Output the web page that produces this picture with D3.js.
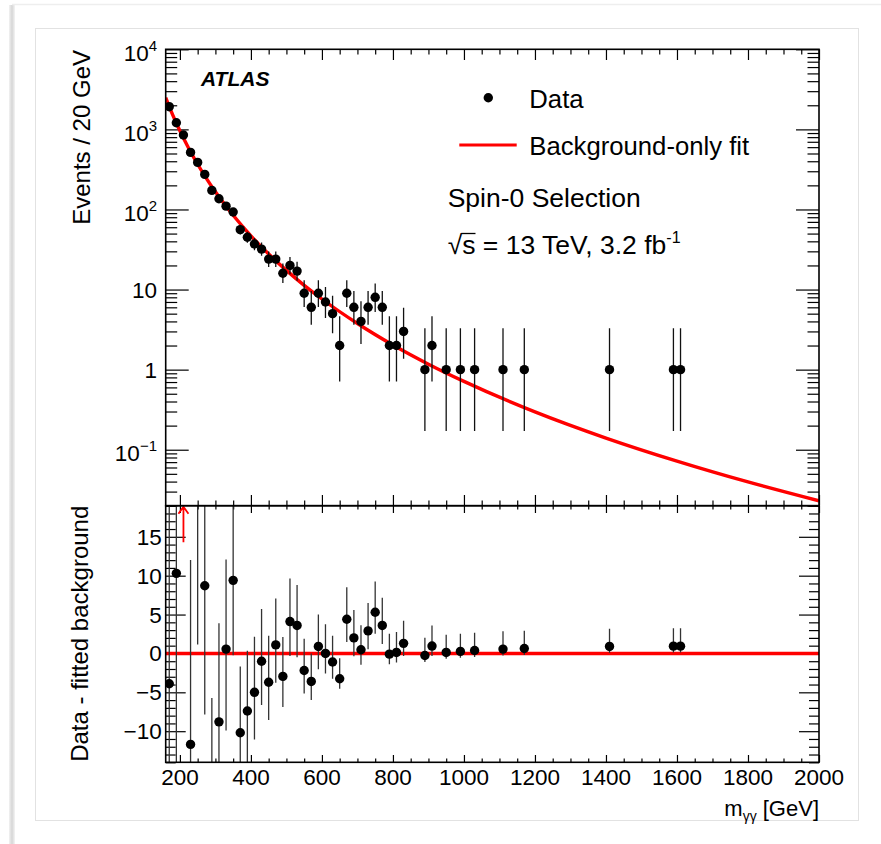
<!DOCTYPE html>
<html>
<head>
<meta charset="utf-8">
<script src="https://cdn.jsdelivr.net/npm/d3@7"></script>
<style>
  body { margin: 0; background: #fff; }
  text { font-family: "Liberation Sans", Arial, Helvetica, sans-serif; fill: #000; }
</style>
</head>
<body>
<svg id="chart" width="881" height="844"></svg>
<script>
// bin centres [GeV] of the non-empty 20 GeV bins
const mass = [170, 190, 210, 230, 250, 270, 290, 310, 330, 350, 370, 390, 410, 430, 450, 470, 490, 510,
  530, 550, 570, 590, 610, 630, 650, 670, 690, 710, 730, 750, 770, 790, 810, 830, 890, 910, 950, 990,
  1030, 1110, 1170, 1410, 1590, 1610]

// events per bin
const events = [1920, 1210, 850, 516, 387, 274, 173, 136, 110, 93, 56, 45, 37, 32, 24, 24, 16, 20,
  17, 9, 6, 9, 7, 5, 2, 9, 6, 4, 6, 8, 6, 2, 2, 3, 1, 2, 1, 1, 1, 1, 1, 1, 1, 1]

// data - fitted background, per bin
const residual = [-3.9, 10.3, 55, -11.7, 20.8, 8.7, -19.9, -8.8, 0.56, 9.4, -10.2, -7.4, -5.0, -1.0,
  -3.7, 1.1, -2.95, 4.1, 3.6, -2.2, -3.6, 0.9, 0.0, -1.1, -3.25, 4.4, 2.0, 0.47, 2.9, 5.3, 3.6, -0.09,
  0.13, 1.3, -0.26, 0.95, 0.13, 0.26, 0.38, 0.56, 0.64, 0.9, 0.94, 0.94]

// background-only fit, sampled along the curve
const fitMass = [160, 180, 200, 225, 250, 275, 300, 350, 400, 450, 500, 550, 600, 700, 800, 900,
  1000, 1200, 1400, 1600, 1800, 2000]
const fitValue = [2490, 1506, 959, 578, 367, 243, 166, 84.6, 46.9, 27.8, 17.35, 11.3, 7.62, 3.77,
  2.03, 1.17, 0.713, 0.297, 0.140, 0.0721, 0.0396, 0.0230]

const xTicks = [200, 400, 600, 800, 1000, 1200, 1400, 1600, 1800, 2000]
const yTopTicks = [0.1, 1, 10, 100, 1000, 10000]
const yTopLabels = [['10', '\u22121'], ['1', null], ['10', null], ['10', '2'], ['10', '3'], ['10', '4']]
const yBotTicks = [-10, -5, 0, 5, 10, 15]

const svg = d3.select('#chart')

// page decoration
svg.append('rect').attr('x', 0).attr('y', 0).attr('width', 881).attr('height', 844).attr('fill', '#fff')
const defs = svg.append('defs')
const grad = defs.append('linearGradient').attr('id', 'shade')
grad.append('stop').attr('offset', '0').attr('stop-color', '#f2f2f2')
grad.append('stop').attr('offset', '0.5').attr('stop-color', '#d6d6d6')
grad.append('stop').attr('offset', '1').attr('stop-color', '#f4f4f4')
svg.append('rect').attr('x', 9).attr('y', 5).attr('width', 6).attr('height', 839).attr('fill', 'url(#shade)')
svg.append('line').attr('x1', 12).attr('x2', 881).attr('y1', 4.5).attr('y2', 4.5)
  .attr('stroke', '#eeeeee').attr('stroke-width', 1.5)
svg.append('rect').attr('x', 35.5).attr('y', 28.5).attr('width', 823).attr('height', 792)
  .attr('fill', 'none').attr('stroke', '#e2e2e2').attr('stroke-width', 1)

const pLeft = 165.7, pRight = 819, pTop = 49.3, pMid = 505.7, pBottom = 762.3

const x = d3.scaleLinear().domain([160, 2000]).range([pLeft, pRight])
const yTop = d3.scaleLog().domain([0.02, 1e4]).range([pMid, pTop])
const yBot = d3.scaleLinear().domain([-14, 19]).range([pBottom, pMid])

// Garwood 68% Poisson interval (Wilson-Hilferty form)
function chi2(k, z) {
  const t = 2 / (9 * k)
  return k * Math.pow(1 - t + z * Math.sqrt(t), 3)
}
const poisLo = n => n === 0 ? 0 : chi2(2 * n, -1) / 2
const poisHi = n => chi2(2 * n + 2, 1) / 2

const data = mass.map((m, i) => ({
  m: m, n: events[i], r: residual[i],
  lo: poisLo(events[i]), hi: poisHi(events[i])
}))

defs.append('clipPath').attr('id', 'clipTop').append('rect')
  .attr('x', pLeft).attr('y', pTop).attr('width', pRight - pLeft).attr('height', pMid - pTop)
defs.append('clipPath').attr('id', 'clipBot').append('rect')
  .attr('x', pLeft).attr('y', pMid).attr('width', pRight - pLeft).attr('height', pBottom - pMid)

const minorX = d3.range(200, 2001, 50).filter(v => v % 200 !== 0)
const minorLog = []
for (let k = -2; k <= 3; k++) {
  for (let j = 2; j <= 9; j++) {
    const v = j * Math.pow(10, k)
    if (v >= 0.02 && v <= 1e4) minorLog.push(v)
  }
}
const minorBot = d3.range(-14, 20).filter(v => v % 5 !== 0)

function ticks(axis, scale, values, size, tx, ty) {
  svg.append('g')
    .attr('class', 'ticks')
    .attr('transform', `translate(${ tx }, ${ ty })`)
    .call(axis(scale).tickValues(values).tickSize(size).tickFormat(''))
}

// ---- top panel ticks
ticks(d3.axisTop, x, xTicks, -10.7, 0, pTop)
ticks(d3.axisTop, x, minorX, -5.3, 0, pTop)
ticks(d3.axisBottom, x, xTicks, -10.7, 0, pMid)
ticks(d3.axisBottom, x, minorX, -5.3, 0, pMid)
ticks(d3.axisLeft, yTop, yTopTicks, -23, pLeft, 0)
ticks(d3.axisLeft, yTop, minorLog, -11.5, pLeft, 0)
ticks(d3.axisRight, yTop, yTopTicks, -23, pRight, 0)
ticks(d3.axisRight, yTop, minorLog, -11.5, pRight, 0)

// ---- bottom panel ticks
ticks(d3.axisTop, x, xTicks, -7.3, 0, pMid)
ticks(d3.axisTop, x, minorX, -3.7, 0, pMid)
ticks(d3.axisBottom, x, xTicks, -7.3, 0, pBottom)
ticks(d3.axisBottom, x, minorX, -3.7, 0, pBottom)
ticks(d3.axisLeft, yBot, yBotTicks, -20, pLeft, 0)
ticks(d3.axisLeft, yBot, minorBot, -10, pLeft, 0)
ticks(d3.axisRight, yBot, yBotTicks, -20, pRight, 0)
ticks(d3.axisRight, yBot, minorBot, -10, pRight, 0)

svg.selectAll('.ticks path').remove()
svg.selectAll('.ticks line').attr('stroke', '#000').attr('stroke-width', 1.2)

// ---- fit curve (top)
const gTop = svg.append('g').attr('clip-path', 'url(#clipTop)')
const fitLine = d3.line().x(d => x(d[0])).y(d => yTop(d[1])).curve(d3.curveMonotoneX)
gTop.append('path')
  .datum(fitMass.map((m, i) => [m, fitValue[i]]))
  .attr('d', fitLine)
  .attr('fill', 'none').attr('stroke', '#ff0000').attr('stroke-width', 3.4)

gTop.selectAll('.err').data(data).enter().append('line')
  .attr('x1', d => x(d.m)).attr('x2', d => x(d.m))
  .attr('y1', d => yTop(Math.max(d.lo, 0.001))).attr('y2', d => yTop(d.hi))
  .attr('stroke', '#111').attr('stroke-width', 1.3)
gTop.selectAll('.pt').data(data).enter().append('circle')
  .attr('cx', d => x(d.m)).attr('cy', d => yTop(d.n)).attr('r', 4.7).attr('fill', '#000')

// ---- residuals (bottom)
const gBot = svg.append('g').attr('clip-path', 'url(#clipBot)')
gBot.append('line')
  .attr('x1', pLeft).attr('x2', pRight).attr('y1', yBot(0)).attr('y2', yBot(0))
  .attr('stroke', '#ff0000').attr('stroke-width', 3.5)

const shown = data.filter(d => d.r - (d.n - d.lo) < 19)
gBot.selectAll('.err').data(shown).enter().append('line')
  .attr('x1', d => x(d.m)).attr('x2', d => x(d.m))
  .attr('y1', d => yBot(d.r - (d.n - d.lo))).attr('y2', d => yBot(d.r + (d.hi - d.n)))
  .attr('stroke', '#333').attr('stroke-width', 1.3)
gBot.selectAll('.pt').data(shown).enter().append('circle')
  .attr('cx', d => x(d.m)).attr('cy', d => yBot(d.r)).attr('r', 4.7).attr('fill', '#000')

// off-scale point: red arrow
const over = data.filter(d => d.r - (d.n - d.lo) >= 19)
over.forEach(d => {
  const ax = x(d.m)
  svg.append('path')
    .attr('d', `M${ ax },${ yBot(14.3) }V${ pMid + 1 }M${ ax - 5 },${ pMid + 8 }L${ ax },${ pMid + 1 }L${ ax + 5 },${ pMid + 8 }`)
    .attr('fill', 'none').attr('stroke', '#ff0000').attr('stroke-width', 1.8)
})

// frames
svg.append('rect').attr('x', pLeft).attr('y', pTop).attr('width', pRight - pLeft).attr('height', pMid - pTop)
  .attr('fill', 'none').attr('stroke', '#000').attr('stroke-width', 1.6)
svg.append('rect').attr('x', pLeft).attr('y', pMid).attr('width', pRight - pLeft).attr('height', pBottom - pMid)
  .attr('fill', 'none').attr('stroke', '#000').attr('stroke-width', 1.6)

// ---- tick labels
svg.append('g').selectAll('text').data(xTicks).enter().append('text')
  .attr('x', d => x(d)).attr('y', 785).attr('text-anchor', 'middle')
  .style('font-size', '22.5px').text(d => d)

const yl = svg.append('g').selectAll('text').data(yTopTicks).enter().append('text')
  .attr('x', 157).attr('y', (d, i) => yTop(d) + (yTopLabels[i][1] ? 11.5 : 8))
  .attr('text-anchor', 'end').style('font-size', '22.5px')
yl.append('tspan').text((d, i) => yTopLabels[i][0])
yl.filter((d, i) => yTopLabels[i][1]).append('tspan')
  .attr('dy', -10).style('font-size', '15px').text(d => yTopLabels[yTopTicks.indexOf(d)][1])

svg.append('g').selectAll('text').data(yBotTicks).enter().append('text')
  .attr('x', 161.7).attr('y', d => yBot(d) + 8).attr('text-anchor', 'end')
  .style('font-size', '22.5px').text(d => d < 0 ? '\u2212' + Math.abs(d) : d)

// ---- axis titles
svg.append('text').attr('transform', 'translate(90,50) rotate(-90)')
  .attr('text-anchor', 'end').style('font-size', '24px').text('Events / 20 GeV')
svg.append('text').attr('transform', `translate(88.3,${ pMid }) rotate(-90)`)
  .attr('text-anchor', 'end').style('font-size', '24px').text('Data - fitted background')

const xt = svg.append('text').attr('x', pRight).attr('y', 816).attr('text-anchor', 'end')
  .style('font-size', '22px')
xt.append('tspan').text('m')
xt.append('tspan').attr('dy', 5).style('font-size', '14px').text('\u03b3\u03b3')
xt.append('tspan').attr('dy', -5).text(' [GeV]')

// ---- labels and legend
svg.append('text').attr('x', 201).attr('y', 86)
  .style('font-size', '21px').style('font-weight', 'bold').style('font-style', 'italic').text('ATLAS')

svg.append('circle').attr('cx', 488.3).attr('cy', 97.7).attr('r', 4.7).attr('fill', '#000')
svg.append('text').attr('x', 529.3).attr('y', 108.3).style('font-size', '25.7px').text('Data')
svg.append('line').attr('x1', 459.3).attr('x2', 516.7).attr('y1', 145).attr('y2', 145)
  .attr('stroke', '#ff0000').attr('stroke-width', 3.2)
svg.append('text').attr('x', 529.3).attr('y', 155).style('font-size', '25.7px').text('Background-only fit')

svg.append('text').attr('x', 447.7).attr('y', 206.7).style('font-size', '26.5px').text('Spin-0 Selection')

const rs = svg.append('text').attr('x', 447.7).attr('y', 254).style('font-size', '26.5px')
rs.append('tspan').text('\u221a')
rs.append('tspan').text('s = 13 TeV, 3.2 fb')
rs.append('tspan').attr('dy', -11).style('font-size', '16px').text('-1')
const node = rs.node()
const sx0 = node.getStartPositionOfChar(1).x
const sx1 = node.getEndPositionOfChar(1).x
svg.append('line').attr('x1', sx0 - 1).attr('x2', sx1).attr('y1', 254 - 20.5).attr('y2', 254 - 20.5)
  .attr('stroke', '#000').attr('stroke-width', 1.3)
</script>
</body>
</html>
